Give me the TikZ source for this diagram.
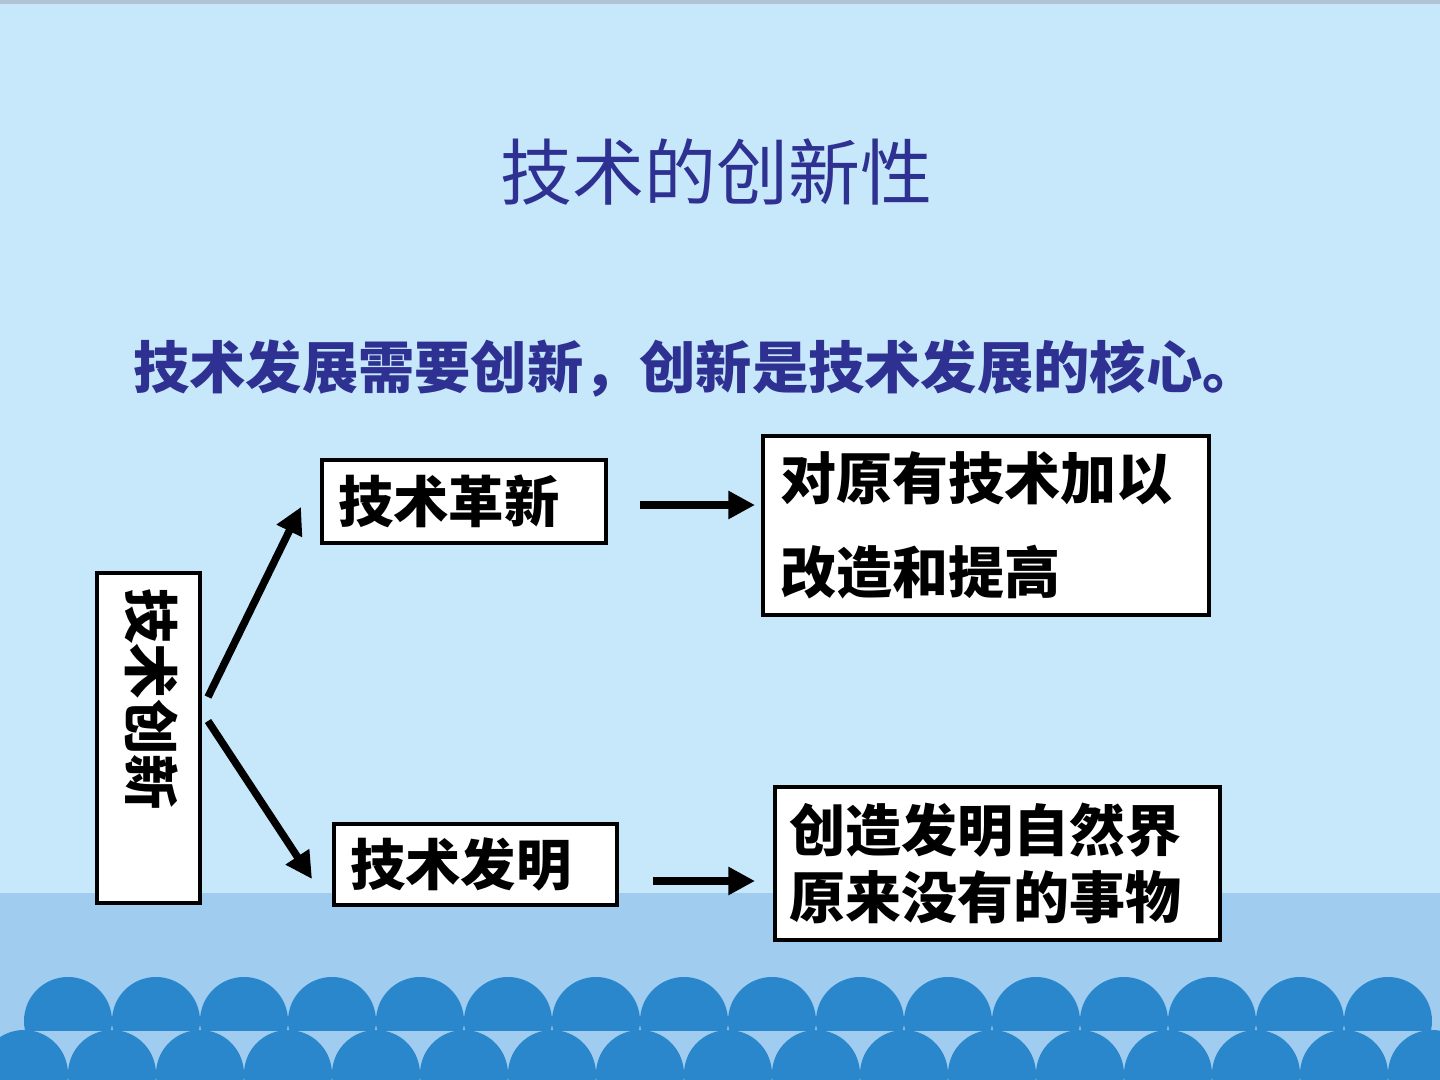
\documentclass[tikz,border=0pt]{standalone}
\usepackage{fontspec}
\newfontfamily\cjk{Noto Sans CJK SC}
\usetikzlibrary{arrows.meta}
\definecolor{bgtop}{RGB}{198,232,250}
\definecolor{bgband}{RGB}{160,204,240}
\definecolor{wave}{RGB}{42,135,204}
\definecolor{titleblue}{RGB}{46,49,146}
\definecolor{topline}{RGB}{175,195,212}
\begin{document}
\begin{tikzpicture}[x=0.75pt,y=-0.75pt,
  box/.style={draw=black,line width=2.6pt,fill=white,inner xsep=12pt,inner ysep=0pt,align=left,
    font=\cjk\bfseries\fontsize{41.5}{50}\selectfont},
  arr/.style={line width=5.6pt,-{Triangle[length=20pt,width=20pt]}},
  heading/.style={text=titleblue,inner sep=0pt}
]
\useasboundingbox (0,0) rectangle (1440,1080);
% background
\fill[bgtop] (0,0) rectangle (1440,1080);
\fill[bgband] (0,893) rectangle (1440,1080);
\fill[topline] (0,0) rectangle (1440,4);
% waves
\begin{scope}
  \clip (0,0) rectangle (1440,1030);
  \foreach \k in {0,...,15} \fill[wave] (68+88*\k,1021) circle[radius=33pt];
\end{scope}
\begin{scope}
  \clip (0,0) rectangle (1440,1080);
  \foreach \k in {0,...,16} \fill[wave] (24+88*\k,1074) circle[radius=33pt];
\end{scope}
% headings
\node[heading,font=\cjk\fontsize{54}{60}\selectfont] (title) at (716,172) {技术的创新性};
\node[heading,anchor=west,font=\cjk\bfseries\fontsize{42.2}{50}\selectfont] (sub) at (133,368)
  {技术发展需要创新，创新是技术发展的核心。};
% boxes
\node[box,rotate=-90,text width=224pt,inner xsep=11.75pt,minimum height=77pt] (v) at (148.5,738) {\raisebox{9pt}{技术创新}};
\node[box,text width=189pt,minimum height=62.25pt] (gx) at (464,501.5) {技术革新};
\node[box,text width=188.25pt,minimum height=60.75pt] (fm) at (475.5,864.5) {技术发明};
\node[box,text width=308.5pt,inner xsep=13pt,minimum height=134.25pt,
      font=\cjk\bfseries\fontsize{42}{70.5}\selectfont] (gxd) at (986,525.5) {对原有技术加以\\改造和提高};
\node[box,text width=311.75pt,inner xsep=11pt,minimum height=114.75pt,
      font=\cjk\bfseries\fontsize{42}{50.25}\selectfont] (fmd) at (997.5,863.5) {创造发明自然界\\原来没有的事物};
% arrow ends
\coordinate (a1s) at (208,697);
\coordinate (a1e) at (301,507);
\coordinate (a2s) at (208,721);
\coordinate (a2e) at (312,879);
\coordinate (a3s) at (640,505);
\coordinate (a3e) at (755,505);
\coordinate (a4s) at (653,881);
\coordinate (a4e) at (755,881);
\draw[arr] (a1s) -- (a1e);
\draw[arr] (a2s) -- (a2e);
\draw[arr] (a3s) -- (a3e);
\draw[arr] (a4s) -- (a4e);
\end{tikzpicture}
\end{document}
